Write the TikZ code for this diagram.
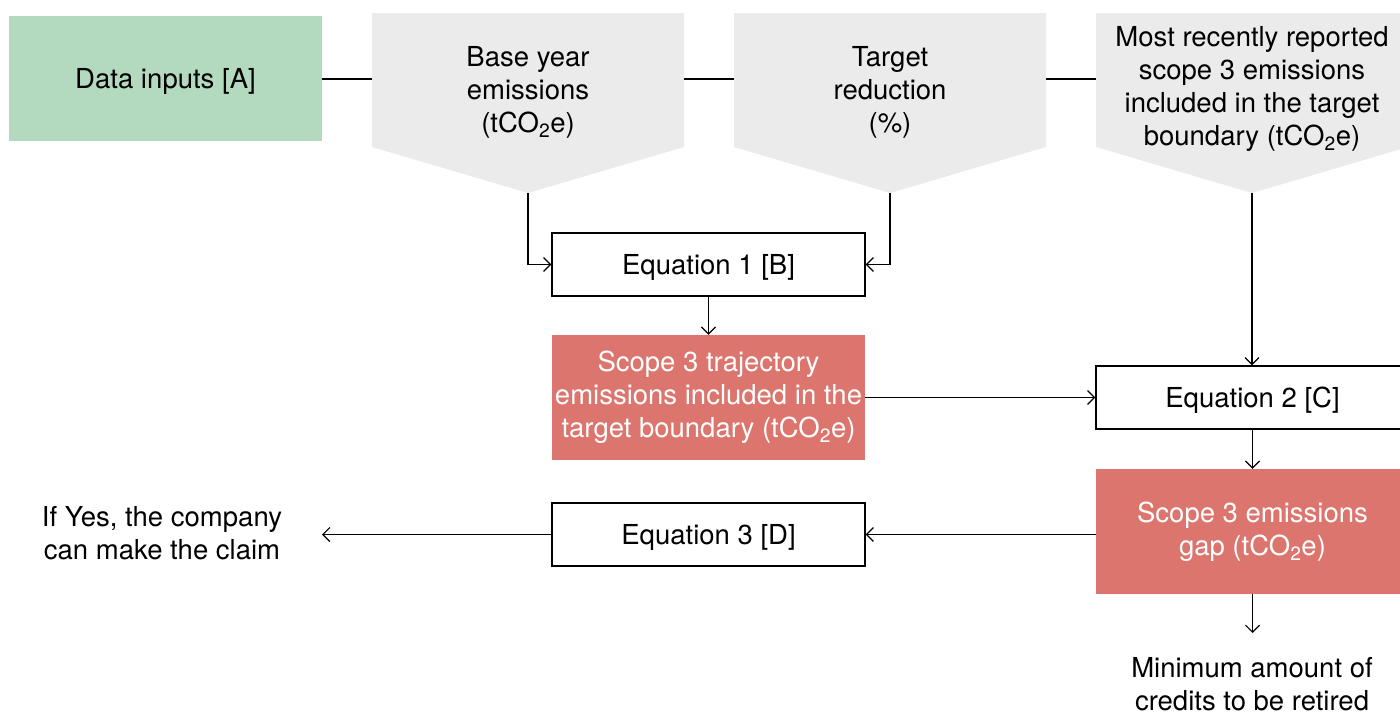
\documentclass[tikz,border=0pt]{standalone}
\usepackage{fontspec}
\setmainfont{TeX Gyre Heros}
\usetikzlibrary{arrows.meta,positioning}
\definecolor{inputgreen}{HTML}{B3D9BF}
\definecolor{inputgrey}{HTML}{EBEBEB}
\definecolor{resultred}{HTML}{DC756D}
\tikzset{
  every node/.style={font=\fontsize{27.5}{33}\selectfont, align=center, inner sep=0pt},
  eqbox/.style={draw, line width=1.2pt, minimum width=313pt, minimum height=63pt, text depth=0pt},
  redbox/.style={fill=resultred, text=white, minimum width=313pt, minimum height=125pt},
  link/.style={line width=1.2pt},
}
\begin{document}
\begin{tikzpicture}[x=1pt,y=-1pt,>={Straight Barb[length=7pt,width=14pt]}]
\useasboundingbox (0,0) rectangle (1400,715);
\clip (0,0) rectangle (1400,715);
% data inputs
\node[fill=inputgreen, minimum width=313pt, minimum height=125pt, text depth=0pt] (datain) at (165.5,78.5) {Data inputs [A]};
\fill[inputgrey] (372,13) -- (684,13) -- (684,147) -- (528,193) -- (372,147) -- cycle;
\fill[inputgrey] (734,13) -- (1046,13) -- (1046,147) -- (890,193) -- (734,147) -- cycle;
\fill[inputgrey] (1096,13) -- (1408,13) -- (1408,147) -- (1252,193) -- (1096,147) -- cycle;
\node (baseyr) at (528,92) {Base year\\emissions\\(tCO\textsubscript{2}e)};
\node (target) at (890,92) {Target\\reduction\\(\%)};
\node (recent) at (1252,89) {Most recently reported\\scope 3 emissions\\included in the target\\boundary (tCO\textsubscript{2}e)};
\coordinate (baseL) at (372,79);
\coordinate (baseR) at (684,79);
\coordinate (targetL) at (734,79);
\coordinate (targetR) at (1046,79);
\coordinate (recentL) at (1096,79);
\coordinate (basetip) at (528,193);
\coordinate (targettip) at (890,193);
\coordinate (recenttip) at (1252,193);
% equations and results
\node[eqbox] (eqone) at (708.5,264.5) {Equation 1 [B]};
\node[redbox] (traj) at (708.5,397.5) {Scope 3 trajectory\\emissions included in the\\target boundary (tCO\textsubscript{2}e)};
\node[eqbox] (eqtwo) at (1252.5,397.5) {Equation 2 [C]};
\node[redbox] (gap) at (1252.5,531.5) {Scope 3 emissions\\gap (tCO\textsubscript{2}e)};
\node[eqbox] (eqthree) at (708.5,534.5) {Equation 3 [D]};
\node (claim) at (162,533) {If Yes, the company\\can make the claim};
\node[text depth=0pt] (credits) at (1252,684) {Minimum amount of\\credits to be retired};
\coordinate (claimend) at (322,534.5);
\coordinate (creditsend) at (1252.5,633);
% connectors
\draw[link] (datain.east |- baseL) -- (baseL);
\draw[link] (baseR) -- (targetL);
\draw[link] (targetR) -- (recentL);
\draw[link,->] (basetip) |- (eqone.west);
\draw[link,->] (targettip) |- (eqone.east);
\draw[link,->] (eqone) -- (traj);
\draw[link,->] (traj) -- (eqtwo);
\draw[link,->] (recenttip) -- (eqtwo.north -| recenttip);
\draw[link,->] (eqtwo) -- (gap);
\draw[link,->] (gap) -- (creditsend);
\draw[link,->] (gap.west |- eqthree) -- (eqthree);
\draw[link,->] (eqthree) -- (claimend);
\end{tikzpicture}
\end{document}
